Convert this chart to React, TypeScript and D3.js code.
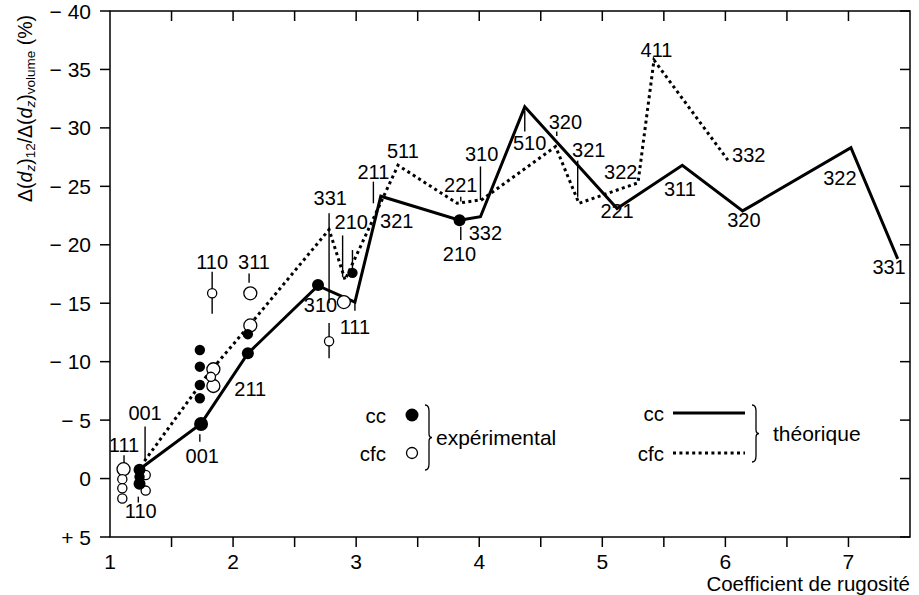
import * as d3 from 'd3'

// theoretical curves (x = coefficient de rugosité, y = Δ(dz)12/Δ(dz)volume in %)
const ccTheoX = [1.24, 1.74, 2.12, 2.69, 2.99, 3.2, 3.84, 4.01, 4.37, 5.12, 5.65, 6.14, 7.02, 7.4]
const ccTheoY = [-0.8, -4.7, -10.7, -16.5, -15.1, -24.15, -22.1, -22.4, -31.8, -23.1, -26.8, -22.9, -28.3, -18.8]

const cfcTheoX = [1.28, 1.8, 2.14, 2.78, 2.91, 3.34, 3.82, 4.02, 4.62, 4.81, 5.29, 5.42, 6.02]
const cfcTheoY = [-1.5, -9.0, -13.2, -21.3, -17.0, -26.8, -23.55, -23.85, -28.4, -23.55, -25.3, -35.8, -27.25]

// experimental points, cc (filled)
const ccBigX = [1.24, 1.24, 1.74, 2.12, 2.69, 3.84]
const ccBigY = [-0.75, 0.45, -4.67, -10.72, -16.55, -22.1]
const ccSmallX = [1.24, 1.73, 1.73, 1.73, 1.73, 2.12, 2.97]
const ccSmallY = [-0.15, -11.0, -9.57, -8.0, -6.87, -12.35, -17.6]

// experimental points, cfc (open)
const cfcBigX = [1.11, 1.84, 1.84, 2.14, 2.14, 2.9]
const cfcBigY = [-0.8, -9.35, -7.92, -15.85, -13.1, -15.1]
const cfcSmallX = [1.1, 1.1, 1.1, 1.29, 1.29, 1.82, 1.83, 2.78]
const cfcSmallY = [0.05, 0.83, 1.7, -0.3, 1.03, -8.7, -15.85, -11.75]

// Miller index annotations (data coordinates of the label centre)
const labelText = ['111', '001', '110', '001', '211', '110', '311', '310', '111', '331', '210', '211', '321', '511', '221', '310', '210', '332', '510', '320', '321', '322', '221', '411', '332', '311', '320', '322', '331']
const labelX = [1.114, 1.285, 1.25, 1.75, 2.14, 1.83, 2.17, 2.71, 2.99, 2.79, 2.96, 3.14, 3.33, 3.38, 3.85, 4.02, 3.84, 4.05, 4.41, 4.7, 4.89, 5.15, 5.12, 5.44, 6.19, 5.63, 6.15, 6.93, 7.33]
const labelY = [-2.9, -5.6, 2.8, -1.95, -7.7, -18.55, -18.55, -14.85, -13.0, -24.0, -21.95, -26.2, -22.0, -28.0, -25.1, -27.8, -19.2, -21.0, -28.7, -30.5, -28.1, -26.2, -22.9, -36.7, -27.7, -24.8, -22.1, -25.7, -18.1]

// leader ticks and error bars (vertical segments)
const segX = [1.114, 1.285, 1.23, 1.73, 1.83, 2.13, 2.78, 2.89, 2.97, 2.99, 2.78, 3.14, 3.85, 4.01, 3.85, 4.37, 4.63, 4.8]
const segY0 = [-2.0, -4.45, 1.55, -3.8, -17.7, -17.55, -22.7, -20.8, -19.55, -15.1, -13.3, -25.4, -24.1, -26.7, -21.55, -31.5, -29.7, -27.2]
const segY1 = [-1.3, -1.6, 2.05, -3.15, -14.1, -16.75, -15.0, -17.25, -17.85, -14.35, -10.3, -23.55, -23.7, -23.83, -20.4, -29.7, -29.3, -24.1]

const yTicks = [-40, -35, -30, -25, -20, -15, -10, -5, 0, 5]
const xTicks = [1, 2, 3, 4, 5, 6, 7]
const xMinorTicks = [1.5, 2, 2.5, 3, 3.5, 4, 4.5, 5, 5.5, 6, 6.5, 7]

const FONT = '"Liberation Sans", Arial, Helvetica, sans-serif'

const fmtY = (v: number) => (v < 0 ? `− ${-v}` : v > 0 ? `+ ${v}` : '0')

const brace = (x: number, y0: number, y1: number) => {
    const ym = (y0 + y1) / 2
    return `M${x},${y0} Q${x + 4},${y0} ${x + 4},${y0 + 6} L${x + 4},${ym - 4} Q${x + 4},${ym} ${x + 7},${ym} Q${x + 4},${ym} ${x + 4},${ym + 4} L${x + 4},${y1 - 6} Q${x + 4},${y1} ${x},${y1}`
}

const App = () => {
    const width = 919
    const height = 595
    const left = 110, right = 910, top = 11, bottom = 537

    const x = d3.scaleLinear().domain([1, 7.5]).range([left, right])
    const y = d3.scaleLinear().domain([-40, 5]).range([top, bottom])

    const line = d3.line<[number, number]>()
        .x(d => x(d[0]))
        .y(d => y(d[1]))

    const ccPath = line(ccTheoX.map((v, i) => [v, ccTheoY[i]]))
    const cfcPath = line(cfcTheoX.map((v, i) => [v, cfcTheoY[i]]))

    return (
        <svg width={width} height={height} style={{ position: 'absolute', left: 0, top: 0, background: '#fff' }}
            fontFamily={FONT}>
            {/* frame */}
            <rect x={left} y={top} width={right - left} height={bottom - top} fill="none" stroke="#000" strokeWidth={1.5} />

            {/* y ticks */}
            {yTicks.map(t => (
                <g key={`y${t}`}>
                    <line x1={left - 10} x2={left} y1={y(t)} y2={y(t)} stroke="#000" strokeWidth={1.5} />
                    <line x1={right - 10} x2={right} y1={y(t)} y2={y(t)} stroke="#000" strokeWidth={1.5} />
                    <text x={left - 19} y={y(t)} textAnchor="end" dominantBaseline="central" fontSize={21}>{fmtY(t)}</text>
                </g>
            ))}

            {/* x ticks */}
            {xMinorTicks.map(t => (
                <g key={`xm${t}`}>
                    <line x1={x(t)} x2={x(t)} y1={top} y2={top + 10} stroke="#000" strokeWidth={1.5} />
                    <line x1={x(t)} x2={x(t)} y1={bottom} y2={bottom + 10} stroke="#000" strokeWidth={1.5} />
                </g>
            ))}
            {xTicks.map(t => (
                <text key={`xl${t}`} x={x(t)} y={bottom + 24} textAnchor="middle" dominantBaseline="central" fontSize={21}>{t}</text>
            ))}

            {/* axis titles */}
            <text x={right} y={583} textAnchor="end" dominantBaseline="central" fontSize={20.5}>Coefficient de rugosité</text>
            <text transform={`translate(25,${(10 + 207) / 2}) rotate(-90)`} textAnchor="middle" dominantBaseline="central" fontSize={19.5}>
                Δ(<tspan fontStyle="italic">d</tspan><tspan fontStyle="italic" fontSize={13.5} dy={5}>z</tspan><tspan dy={-5}>)</tspan><tspan fontSize={13.5} dy={5}>12</tspan><tspan dy={-5}>/Δ(</tspan><tspan fontStyle="italic">d</tspan><tspan fontStyle="italic" fontSize={13.5} dy={5}>z</tspan><tspan dy={-5}>)</tspan><tspan fontSize={13.5} dy={5}>volume</tspan><tspan dy={-5}> (%)</tspan>
            </text>

            {/* leader ticks / error bars */}
            {segX.map((v, i) => (
                <line key={`s${i}`} x1={x(v)} x2={x(v)} y1={y(segY0[i])} y2={y(segY1[i])} stroke="#000" strokeWidth={1.4} />
            ))}

            {/* theoretical curves */}
            <path d={cfcPath ?? ''} fill="none" stroke="#000" strokeWidth={3} strokeDasharray="3,3.4" />
            <path d={ccPath ?? ''} fill="none" stroke="#000" strokeWidth={3} strokeLinejoin="miter" />

            {/* experimental points */}
            {cfcBigX.map((v, i) => (
                <circle key={`ob${i}`} cx={x(v)} cy={y(cfcBigY[i])} r={6.5} fill="#fff" stroke="#000" strokeWidth={1.3} />
            ))}
            {cfcSmallX.map((v, i) => (
                <circle key={`os${i}`} cx={x(v)} cy={y(cfcSmallY[i])} r={4.6} fill="#fff" stroke="#000" strokeWidth={1.3} />
            ))}
            {ccSmallX.map((v, i) => (
                <circle key={`fs${i}`} cx={x(v)} cy={y(ccSmallY[i])} r={5.2} fill="#000" />
            ))}
            {ccBigX.map((v, i) => (
                <circle key={`fb${i}`} cx={x(v)} cy={y(ccBigY[i])} r={i === 2 ? 7 : 6} fill="#000" />
            ))}

            {/* Miller index labels */}
            {labelText.map((t, i) => (
                <text key={`l${i}`} x={x(labelX[i])} y={y(labelY[i])} textAnchor="middle" dominantBaseline="central" fontSize={20}>{t}</text>
            ))}

            {/* legend: experimental */}
            <text x={386} y={415} textAnchor="end" dominantBaseline="central" fontSize={20.5}>cc</text>
            <circle cx={412} cy={415} r={6.5} fill="#000" />
            <text x={386} y={453} textAnchor="end" dominantBaseline="central" fontSize={20.5}>cfc</text>
            <circle cx={412} cy={453} r={5.5} fill="#fff" stroke="#000" strokeWidth={1.3} />
            <path d={brace(425, 405, 470)} fill="none" stroke="#000" strokeWidth={1.3} />
            <text x={436} y={437} dominantBaseline="central" fontSize={21}>expérimental</text>

            {/* legend: theoretical */}
            <text x={664} y={413} textAnchor="end" dominantBaseline="central" fontSize={20.5}>cc</text>
            <line x1={673} x2={745} y1={413} y2={413} stroke="#000" strokeWidth={3} />
            <text x={664} y={453} textAnchor="end" dominantBaseline="central" fontSize={20.5}>cfc</text>
            <line x1={673} x2={745} y1={453} y2={453} stroke="#000" strokeWidth={3} strokeDasharray="3,3.4" />
            <path d={brace(752, 405, 462)} fill="none" stroke="#000" strokeWidth={1.3} />
            <text x={773} y={433} dominantBaseline="central" fontSize={21}>théorique</text>
        </svg>
    )
}

export default App
